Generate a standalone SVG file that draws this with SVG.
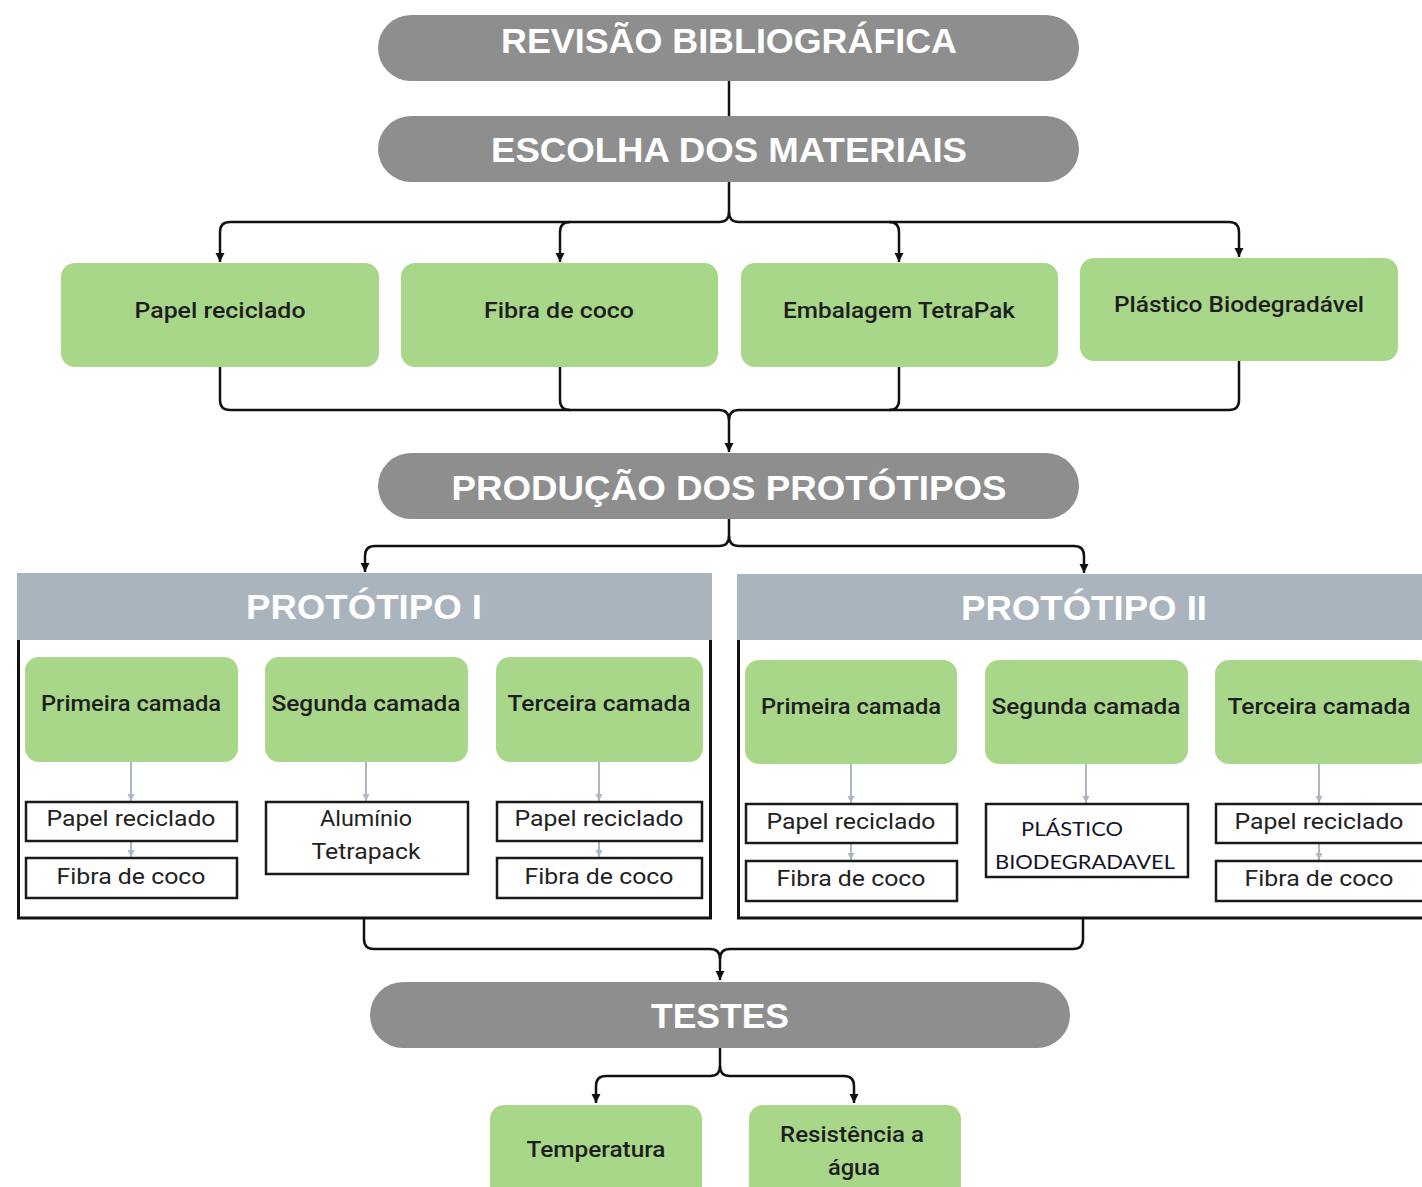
<svg xmlns="http://www.w3.org/2000/svg" width="1422" height="1187" viewBox="0 0 1422 1187">
<defs>
<style>
.pill{fill:#8e8e8e}
.ph{font-family:"Liberation Sans",Arial,sans-serif;font-weight:bold;font-size:35px;fill:#ffffff;text-anchor:middle}
.green{fill:#a9d78a}
.gt{font-family:Roboto,"Liberation Sans",sans-serif;font-size:22px;font-weight:500;fill:#1e1e1e;text-anchor:middle}
.wb{fill:#ffffff;stroke:#1a1a1a;stroke-width:2.5}
.wt{font-family:Roboto,"Liberation Sans",sans-serif;font-size:22px;fill:#222222;text-anchor:middle}
.pt{font-family:Lato,"Open Sans",sans-serif;font-size:19px;fill:#14142a;text-anchor:middle}
.hdr{fill:#a9b4bd}
.frame{fill:none;stroke:#111111;stroke-width:3}
.conn{fill:none;stroke:#111111;stroke-width:2.5;stroke-linejoin:round}
.lconn{fill:none;stroke:#a9b8c6;stroke-width:2}
</style>
<marker id="ah" markerUnits="userSpaceOnUse" markerWidth="10" markerHeight="10" refX="9" refY="5" orient="auto">
<path d="M0,0.5 L9,5 L0,9.5 z" fill="#111111"/>
</marker>
<marker id="lah" markerUnits="userSpaceOnUse" markerWidth="8" markerHeight="8" refX="7" refY="4" orient="auto">
<path d="M0,0.5 L7,4 L0,7.5 z" fill="#a9b8c6"/>
</marker>
</defs>
<rect width="1422" height="1187" fill="#ffffff"/>

<g id="connectors">
<path class="conn" d="M729,80 V116"/>
<path class="conn" d="M729,182 V212 Q729,222 719,222 H230 Q220,222 220,232 V262" marker-end="url(#ah)"/>
<path class="conn" d="M729,212 Q729,222 739,222 H1229 Q1239,222 1239,232 V257" marker-end="url(#ah)"/>
<path class="conn" d="M570,222 Q560,222 560,232 V262" marker-end="url(#ah)"/>
<path class="conn" d="M889,222 Q899,222 899,232 V262" marker-end="url(#ah)"/>
<path class="conn" d="M220,367 V400 Q220,410 230,410 H719 Q729,410 729,420 V452" marker-end="url(#ah)"/>
<path class="conn" d="M1239,361 V400 Q1239,410 1229,410 H739 Q729,410 729,420"/>
<path class="conn" d="M560,367 V400 Q560,410 570,410"/>
<path class="conn" d="M899,367 V400 Q899,410 889,410"/>
<path class="conn" d="M729,519 V536 Q729,546 719,546 H375 Q365,546 365,556 V572" marker-end="url(#ah)"/>
<path class="conn" d="M729,536 Q729,546 739,546 H1074 Q1084,546 1084,556 V573" marker-end="url(#ah)"/>
<path class="conn" d="M364,918 V939 Q364,949 374,949 H710 Q720,949 720,959 V980" marker-end="url(#ah)"/>
<path class="conn" d="M1083,918 V939 Q1083,949 1073,949 H730 Q720,949 720,959"/>
<path class="conn" d="M720,1048 V1066 Q720,1076 710,1076 H606 Q596,1076 596,1086 V1103" marker-end="url(#ah)"/>
<path class="conn" d="M720,1066 Q720,1076 730,1076 H844 Q854,1076 854,1086 V1103" marker-end="url(#ah)"/>
<path class="lconn" d="M131,762 V801" marker-end="url(#lah)"/>
<path class="lconn" d="M131,842 V857" marker-end="url(#lah)"/>
<path class="lconn" d="M366,762 V801" marker-end="url(#lah)"/>
<path class="lconn" d="M599,762 V801" marker-end="url(#lah)"/>
<path class="lconn" d="M599,842 V857" marker-end="url(#lah)"/>
<path class="lconn" d="M851,764 V803" marker-end="url(#lah)"/>
<path class="lconn" d="M851,844 V860" marker-end="url(#lah)"/>
<path class="lconn" d="M1086,764 V803" marker-end="url(#lah)"/>
<path class="lconn" d="M1319,764 V803" marker-end="url(#lah)"/>
<path class="lconn" d="M1319,844 V860" marker-end="url(#lah)"/>
</g>

<g id="revisao">
<rect class="pill" x="378" y="15" width="701" height="66" rx="33"/>
<text class="ph" x="729" y="53" textLength="456" lengthAdjust="spacingAndGlyphs">REVISÃO BIBLIOGRÁFICA</text>
</g>
<g id="escolha">
<rect class="pill" x="378" y="116" width="701" height="66" rx="33"/>
<text class="ph" x="729" y="162" textLength="476" lengthAdjust="spacingAndGlyphs">ESCOLHA DOS MATERIAIS</text>
</g>

<g id="m-papel">
<rect class="green" x="61" y="263" width="318" height="104" rx="14"/>
<text class="gt" x="220" y="318" textLength="171" lengthAdjust="spacingAndGlyphs">Papel reciclado</text>
</g>
<g id="m-fibra">
<rect class="green" x="401" y="263" width="317" height="104" rx="14"/>
<text class="gt" x="559" y="318" textLength="150" lengthAdjust="spacingAndGlyphs">Fibra de coco</text>
</g>
<g id="m-embalagem">
<rect class="green" x="741" y="263" width="317" height="104" rx="14"/>
<text class="gt" x="899" y="318" textLength="232" lengthAdjust="spacingAndGlyphs">Embalagem TetraPak</text>
</g>
<g id="m-plastico">
<rect class="green" x="1080" y="258" width="318" height="103" rx="14"/>
<text class="gt" x="1239" y="312" textLength="250" lengthAdjust="spacingAndGlyphs">Plástico Biodegradável</text>
</g>

<g id="producao">
<rect class="pill" x="378" y="453" width="701" height="66" rx="33"/>
<text class="ph" x="729" y="500" textLength="555" lengthAdjust="spacingAndGlyphs">PRODUÇÃO DOS PROTÓTIPOS</text>
</g>

<g id="prototipo1">
<rect class="hdr" x="17" y="573" width="695" height="67"/>
<path class="frame" d="M18.5,640 V918 H710.5 V640"/>
<text class="ph" x="364" y="619" font-size="34" textLength="236" lengthAdjust="spacingAndGlyphs">PROTÓTIPO I</text>
</g>
<g id="p1-primeira">
<rect class="green" x="25" y="657" width="213" height="105" rx="14"/>
<text class="gt" x="131" y="711" textLength="180" lengthAdjust="spacingAndGlyphs">Primeira camada</text>
</g>
<g id="p1-segunda">
<rect class="green" x="265" y="657" width="203" height="105" rx="14"/>
<text class="gt" x="366" y="711" textLength="189" lengthAdjust="spacingAndGlyphs">Segunda camada</text>
</g>
<g id="p1-terceira">
<rect class="green" x="496" y="657" width="207" height="105" rx="14"/>
<text class="gt" x="599" y="711" textLength="183" lengthAdjust="spacingAndGlyphs">Terceira camada</text>
</g>
<g id="p1-papel1">
<rect class="wb" x="26" y="802" width="211" height="39"/>
<text class="wt" x="131" y="826" textLength="169" lengthAdjust="spacingAndGlyphs">Papel reciclado</text>
</g>
<g id="p1-fibra1">
<rect class="wb" x="26" y="858" width="211" height="40"/>
<text class="wt" x="131" y="884" textLength="149" lengthAdjust="spacingAndGlyphs">Fibra de coco</text>
</g>
<g id="p1-aluminio">
<rect class="wb" x="266" y="802" width="202" height="72"/>
<text class="wt" x="366" y="826" textLength="92" lengthAdjust="spacingAndGlyphs">Alumínio</text>
<text class="wt" x="366" y="859" textLength="109" lengthAdjust="spacingAndGlyphs">Tetrapack</text>
</g>
<g id="p1-papel3">
<rect class="wb" x="497" y="802" width="205" height="39"/>
<text class="wt" x="599" y="826" textLength="169" lengthAdjust="spacingAndGlyphs">Papel reciclado</text>
</g>
<g id="p1-fibra3">
<rect class="wb" x="497" y="858" width="205" height="40"/>
<text class="wt" x="599" y="884" textLength="149" lengthAdjust="spacingAndGlyphs">Fibra de coco</text>
</g>

<g id="prototipo2">
<rect class="hdr" x="737" y="574" width="690" height="66"/>
<path class="frame" d="M738.5,640 V918 H1430"/>
<text class="ph" x="1084" y="620" font-size="34" textLength="246" lengthAdjust="spacingAndGlyphs">PROTÓTIPO II</text>
</g>
<g id="p2-primeira">
<rect class="green" x="745" y="660" width="212" height="104" rx="14"/>
<text class="gt" x="851" y="714" textLength="180" lengthAdjust="spacingAndGlyphs">Primeira camada</text>
</g>
<g id="p2-segunda">
<rect class="green" x="985" y="660" width="203" height="104" rx="14"/>
<text class="gt" x="1086" y="714" textLength="189" lengthAdjust="spacingAndGlyphs">Segunda camada</text>
</g>
<g id="p2-terceira">
<rect class="green" x="1215" y="660" width="215" height="104" rx="14"/>
<text class="gt" x="1319" y="714" textLength="183" lengthAdjust="spacingAndGlyphs">Terceira camada</text>
</g>
<g id="p2-papel1">
<rect class="wb" x="746" y="804" width="211" height="39"/>
<text class="wt" x="851" y="829" textLength="169" lengthAdjust="spacingAndGlyphs">Papel reciclado</text>
</g>
<g id="p2-fibra1">
<rect class="wb" x="746" y="861" width="211" height="40"/>
<text class="wt" x="851" y="886" textLength="149" lengthAdjust="spacingAndGlyphs">Fibra de coco</text>
</g>
<g id="p2-plastico">
<rect class="wb" x="986" y="804" width="202" height="73"/>
<text class="pt" x="1072" y="836" textLength="102" lengthAdjust="spacingAndGlyphs">PLÁSTICO</text>
<text class="pt" x="1085" y="869" textLength="180" lengthAdjust="spacingAndGlyphs">BIODEGRADAVEL</text>
</g>
<g id="p2-papel3">
<rect class="wb" x="1216" y="804" width="215" height="39"/>
<text class="wt" x="1319" y="829" textLength="169" lengthAdjust="spacingAndGlyphs">Papel reciclado</text>
</g>
<g id="p2-fibra3">
<rect class="wb" x="1216" y="861" width="215" height="40"/>
<text class="wt" x="1319" y="886" textLength="149" lengthAdjust="spacingAndGlyphs">Fibra de coco</text>
</g>

<g id="testes">
<rect class="pill" x="370" y="982" width="700" height="66" rx="33"/>
<text class="ph" x="720" y="1028" textLength="138" lengthAdjust="spacingAndGlyphs">TESTES</text>
</g>
<g id="t-temperatura">
<rect class="green" x="490" y="1105" width="212" height="100" rx="14"/>
<text class="gt" x="596" y="1157" textLength="139" lengthAdjust="spacingAndGlyphs">Temperatura</text>
</g>
<g id="t-resistencia">
<rect class="green" x="749" y="1105" width="212" height="100" rx="14"/>
<text class="gt" x="852" y="1142" textLength="144" lengthAdjust="spacingAndGlyphs">Resistência a</text>
<text class="gt" x="854" y="1175" textLength="52" lengthAdjust="spacingAndGlyphs">água</text>
</g>
</svg>
